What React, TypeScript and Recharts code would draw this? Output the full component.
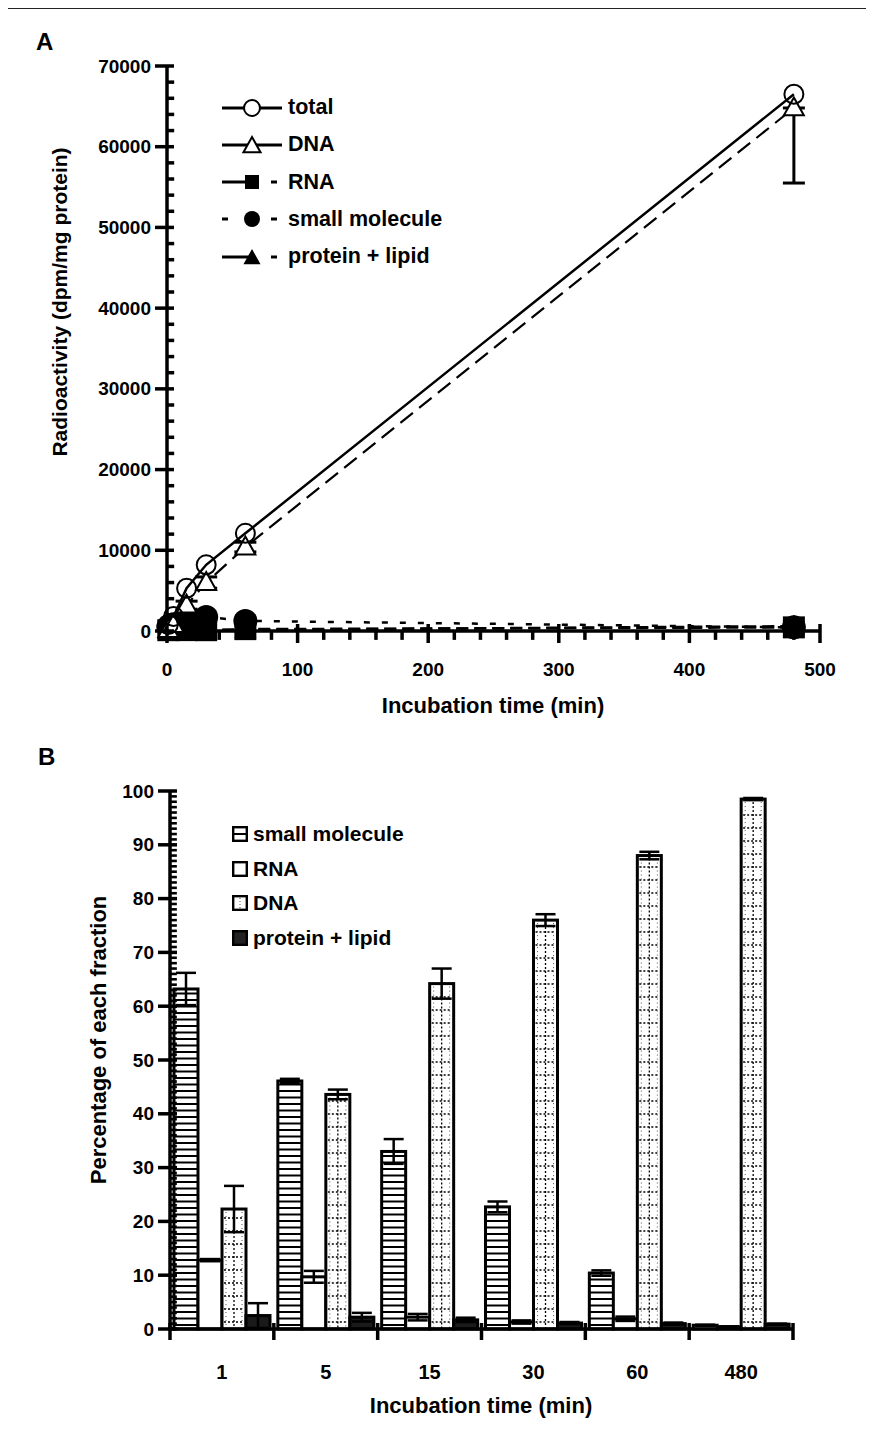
import React from 'react';
import { LineChart, Line, BarChart, Bar, XAxis, YAxis, ErrorBar, ReferenceLine } from 'recharts';

// ---- panel A: radioactivity vs incubation time ----
const times = [1, 5, 15, 30, 60, 480];
const totalCounts = [800, 1800, 5300, 8200, 12100, 66500];
const dnaCounts = [180, 780, 3200, 6000, 10400, 64800];
const dnaCountErr = [[60, 60], [150, 150], [500, 500], [700, 700], [600, 600], [9300, 0]];
const rnaCounts = [100, 175, 110, 100, 230, 450];
const smallCounts = [500, 850, 1650, 1750, 1250, 450];
const proteinCounts = [20, 40, 85, 95, 130, 600];

// ---- panel B: percentage of each fraction ----
const fractionTimes = ['1', '5', '15', '30', '60', '480'];
const smallPct = [63.2, 46.1, 33.0, 22.7, 10.4, 0.7];
const smallPctErr = [3.0, 0.4, 2.3, 1.0, 0.5, 0.1];
const rnaPct = [12.8, 9.7, 2.2, 1.3, 1.9, 0.4];
const rnaPctErr = [0.2, 1.1, 0.6, 0.3, 0.4, 0.1];
const dnaPct = [22.3, 43.6, 64.2, 76.0, 88.0, 98.5];
const dnaPctErr = [4.3, 0.9, 2.8, 1.1, 0.7, 0.2];
const proteinPct = [2.5, 2.2, 1.7, 1.1, 1.0, 0.9];
const proteinPctErr = [2.3, 0.8, 0.4, 0.2, 0.2, 0.1];

// labelled (major) ticks
const countTicks = [0, 10000, 20000, 30000, 40000, 50000, 60000, 70000];
const timeTicks = [0, 100, 200, 300, 400, 500];
const pctTicks = [0, 10, 20, 30, 40, 50, 60, 70, 80, 90, 100];
// unlabelled minor ticks
const countMinor = Array.from({ length: 35 }, (_, i) => i * 2000).filter((v) => v % 10000 !== 0);
const timeMinor = Array.from({ length: 25 }, (_, i) => i * 20).filter((v) => v % 100 !== 0);
const pctMinor = Array.from({ length: 100 }, (_, i) => i).filter((v) => v % 10 !== 0);

const lineData = times.map((t, i) => ({
  time: t,
  total: totalCounts[i],
  dna: dnaCounts[i],
  dnaErr: dnaCountErr[i],
  rna: rnaCounts[i],
  small: smallCounts[i],
  protein: proteinCounts[i],
}));

const barData = fractionTimes.map((t, i) => ({
  time: t,
  small: smallPct[i],
  smallErr: smallPctErr[i],
  rna: rnaPct[i],
  rnaErr: rnaPctErr[i],
  dna: dnaPct[i],
  dnaErr: dnaPctErr[i],
  protein: proteinPct[i],
  proteinErr: proteinPctErr[i],
}));

const FONT = '"Liberation Sans", Arial, Helvetica, sans-serif';
const tickText: React.CSSProperties = { fontFamily: FONT, fontWeight: 700, fontSize: 19, fill: '#000' };
const AX = 3.5;

const B_PLOT_W = 623;
const B_BAND = B_PLOT_W / fractionTimes.length;

function TimeTickA(props: any) {
  const x = Number(props.x);
  const y = Number(props.y);
  return (
    <g>
      <line x1={x} x2={x} y1={y - 7} y2={y + 12} stroke="#000" strokeWidth={3.5} />
      <text x={x} y={y + 38} textAnchor="middle" dominantBaseline="central" style={tickText}>{props.payload.value}</text>
    </g>
  );
}

function MajorYTick(props: any) {
  const x = Number(props.x);
  const y = Number(props.y);
  return (
    <g>
      <line x1={x - 12} x2={x + 7} y1={y} y2={y} stroke="#000" strokeWidth={3.5} />
      <text x={x - 16} y={y} textAnchor="end" dominantBaseline="central" style={tickText}>{props.payload.value}</text>
    </g>
  );
}

function GroupTick(props: any) {
  const x = Number(props.x);
  const y = Number(props.y);
  const right = x + B_BAND / 2;
  const left = x - B_BAND / 2;
  return (
    <g>
      {props.index === 0 && <line x1={left} x2={left} y1={y - 6} y2={y + 11} stroke="#000" strokeWidth={3.5} />}
      <line x1={right} x2={right} y1={y - 6} y2={y + 11} stroke="#000" strokeWidth={3.5} />
      <text x={x} y={y + 43} textAnchor="middle" dominantBaseline="central" style={{ ...tickText, fontSize: 20 }}>
        {props.payload.value}
      </text>
    </g>
  );
}

// markers
const openCircle = (p: any) => (
  <circle key={`oc-${p.index}`} cx={p.cx} cy={p.cy} r={9.5} fill="none" stroke="#000" strokeWidth={2} />
);
const triPath = (cx: number, cy: number, s: number) =>
  `M${cx},${cy - s} L${cx + s * 0.95},${cy + s * 0.7} L${cx - s * 0.95},${cy + s * 0.7} Z`;
const openTriangle = (p: any) => (
  <path key={`ot-${p.index}`} d={triPath(p.cx, p.cy, 10.5)} fill="#fff" stroke="#000" strokeWidth={2} />
);
const filledTriangle = (p: any) => (
  <path key={`ft-${p.index}`} d={triPath(p.cx, p.cy, 11)} fill="#000" stroke="#000" strokeWidth={1} />
);
const filledSquare = (p: any) => (
  <rect key={`fs-${p.index}`} x={p.cx - 11} y={p.cy - 11} width={22} height={22} fill="#000" />
);
const filledCircle = (p: any) => (
  <circle key={`fc-${p.index}`} cx={p.cx} cy={p.cy} r={12} fill="#000" />
);

// bar shapes
function StripedBar(props: any) {
  const { x, y, width, height } = props;
  const lines = [];
  for (let yy = y + height - 4; yy > y + 2; yy -= 6.5) {
    lines.push(<line key={yy} x1={x} x2={x + width} y1={yy} y2={yy} stroke="#000" strokeWidth={2} />);
  }
  return (
    <g>
      <rect x={x} y={y} width={width} height={height} fill="#fff" />
      {lines}
      <rect x={x} y={y} width={width} height={height} fill="none" stroke="#000" strokeWidth={3} />
    </g>
  );
}

function DottedBar(props: any) {
  const { x, y, width, height } = props;
  const lines = [];
  for (let yy = y + height - 7; yy > y + 3; yy -= 13) {
    lines.push(
      <line key={yy} x1={x + 2} x2={x + width - 2} y1={yy} y2={yy} stroke="#000" strokeWidth={1.3} strokeDasharray="2 2" />,
    );
  }
  return (
    <g>
      <rect x={x} y={y} width={width} height={height} fill="#fff" />
      {lines}
      <line x1={x + width / 2} x2={x + width / 2} y1={y + 3} y2={y + height} stroke="#000" strokeWidth={1.3} strokeDasharray="2 2" />
      <line x1={x + 4} x2={x + 4} y1={y + 3} y2={y + height} stroke="#555" strokeWidth={1} strokeDasharray="1 3" />
      <line x1={x + width - 4} x2={x + width - 4} y1={y + 3} y2={y + height} stroke="#555" strokeWidth={1} strokeDasharray="1 3" />
      <rect x={x} y={y} width={width} height={height} fill="none" stroke="#000" strokeWidth={3} />
    </g>
  );
}

function PlainBar(props: any) {
  const { x, y, width, height } = props;
  return <rect x={x} y={y} width={width} height={Math.max(height, 0.5)} fill="#fff" stroke="#000" strokeWidth={3} />;
}

function DarkBar(props: any) {
  const { x, y, width, height } = props;
  return <rect x={x} y={y} width={width} height={Math.max(height, 0.5)} fill="#1a1a1a" stroke="#000" strokeWidth={3} />;
}

// legend glyphs
function LineGlyph({ lead, tail, marker }: { lead: string; tail: string; marker: string }) {
  const cx = 30;
  const cy = 12;
  let m: React.ReactNode = null;
  if (marker === 'oc') m = <circle cx={cx} cy={cy} r={8} fill="#fff" stroke="#000" strokeWidth={2} />;
  if (marker === 'ot') m = <path d={triPath(cx, cy + 1, 9)} fill="#fff" stroke="#000" strokeWidth={2} />;
  if (marker === 'fs') m = <rect x={cx - 7} y={cy - 7} width={14} height={14} fill="#000" />;
  if (marker === 'fc') m = <circle cx={cx} cy={cy} r={8} fill="#000" />;
  if (marker === 'ft') m = <path d={triPath(cx, cy + 1, 9)} fill="#000" />;
  return (
    <svg width={62} height={24} style={{ display: 'block' }}>
      {lead === 'solid' ? (
        <line x1={0} x2={cx} y1={cy} y2={cy} stroke="#000" strokeWidth={3} />
      ) : (
        <line x1={0} x2={6} y1={cy} y2={cy} stroke="#000" strokeWidth={3} />
      )}
      {tail === 'solid' ? (
        <line x1={cx} x2={60} y1={cy} y2={cy} stroke="#000" strokeWidth={3} />
      ) : (
        <line x1={49} x2={55} y1={cy} y2={cy} stroke="#000" strokeWidth={3} />
      )}
      {m}
    </svg>
  );
}

const legendA = [
  { label: 'total', lead: 'solid', tail: 'solid', marker: 'oc' },
  { label: 'DNA', lead: 'solid', tail: 'solid', marker: 'ot' },
  { label: 'RNA', lead: 'solid', tail: 'dash', marker: 'fs' },
  { label: 'small molecule', lead: 'dash', tail: 'dash', marker: 'fc' },
  { label: 'protein + lipid', lead: 'solid', tail: 'dash', marker: 'ft' },
];

const legendB = [
  { label: 'small molecule', kind: 'stripe' },
  { label: 'RNA', kind: 'plain' },
  { label: 'DNA', kind: 'dot' },
  { label: 'protein + lipid', kind: 'dark' },
];

function BoxGlyph({ kind }: { kind: string }) {
  return (
    <svg width={16} height={16} style={{ display: 'block' }}>
      <rect x={1.2} y={1.2} width={13.6} height={13.6} fill={kind === 'dark' ? '#222' : '#fff'} stroke="#000" strokeWidth={2.4} />
      {kind === 'stripe' && <line x1={1} x2={15} y1={8} y2={8} stroke="#000" strokeWidth={2} />}
      {kind === 'dot' && <line x1={8} x2={8} y1={3} y2={14} stroke="#555" strokeWidth={1} strokeDasharray="1 2" />}
    </svg>
  );
}

const labelStyle: React.CSSProperties = {
  position: 'absolute',
  fontFamily: FONT,
  fontWeight: 700,
  fontSize: 21,
  color: '#000',
  whiteSpace: 'nowrap',
};

export default function App() {
  return (
    <div style={{ position: 'relative', width: 858, height: 1436, background: '#fff' }}>
      {/* outer frame */}
      <div style={{ position: 'absolute', left: -1, top: 0, width: 858, height: 1440, borderTop: '1.5px solid #222', borderLeft: '1.5px solid #555', borderRight: '1.5px solid #555' }} />

      <div style={{ ...labelStyle, fontSize: 24, left: 28, top: 20 }}>A</div>
      <div style={{ ...labelStyle, fontSize: 24, left: 30, top: 735 }}>B</div>

      {/* Panel A */}
      <div style={{ position: 'absolute', left: 0, top: 0 }}>
        <LineChart width={858} height={730} data={lineData} margin={{ top: 58, right: 46, bottom: 47, left: 69 }}>
          <XAxis dataKey="time" type="number" domain={[0, 500]} ticks={timeTicks} interval={0}
            tick={TimeTickA} tickLine={false} tickSize={0} tickMargin={0} height={60}
            axisLine={{ stroke: '#000', strokeWidth: AX }} />
          <XAxis xAxisId="top" orientation="top" type="number" domain={[0, 500]} tick={false} tickLine={false} height={0}
            axisLine={{ stroke: '#000', strokeWidth: AX }} />
          <YAxis type="number" domain={[0, 70000]} ticks={countTicks} interval={0}
            tick={MajorYTick} tickLine={false} tickSize={0} tickMargin={0} width={90}
            axisLine={{ stroke: '#000', strokeWidth: AX }} />
          <YAxis yAxisId="right" orientation="right" type="number" domain={[0, 70000]} tick={false} tickLine={false} width={0}
            axisLine={{ stroke: '#000', strokeWidth: AX }} />
          {/* unlabelled minor ticks */}
          {countMinor.map((v) => (
            <ReferenceLine key={`cy${v}`} segment={[{ x: 0, y: v }, { x: 5.5, y: v }]} ifOverflow="visible" stroke="#000" strokeWidth={3.5} />
          ))}
          {timeMinor.map((v) => (
            <ReferenceLine key={`tx${v}`} segment={[{ x: v, y: 0 }, { x: v, y: -1100 }]} ifOverflow="visible" stroke="#000" strokeWidth={3.5} />
          ))}
          <Line dataKey="small" stroke="#000" strokeWidth={2.5} strokeDasharray="6 12" dot={filledCircle} activeDot={false} isAnimationActive={false} />
          <Line dataKey="rna" stroke="#000" strokeWidth={2.5} strokeDasharray="12 6" dot={filledSquare} activeDot={false} isAnimationActive={false} />
          <Line dataKey="protein" stroke="#000" strokeWidth={2.5} strokeDasharray="12 6" dot={filledTriangle} activeDot={false} isAnimationActive={false} />
          <Line dataKey="dna" stroke="#000" strokeWidth={2.2} strokeDasharray="16 8" dot={openTriangle} activeDot={false} isAnimationActive={false}>
            <ErrorBar dataKey="dnaErr" width={11} strokeWidth={3} stroke="#000" direction="y" />
          </Line>
          <Line dataKey="total" stroke="#000" strokeWidth={2.5} dot={openCircle} activeDot={false} isAnimationActive={false} />
        </LineChart>
      </div>

      {legendA.map((e, i) => (
        <div key={e.label} style={{ position: 'absolute', left: 214, top: 87 + i * 37.3, display: 'flex', alignItems: 'center' }}>
          <LineGlyph lead={e.lead} tail={e.tail} marker={e.marker} />
          <span style={{ fontFamily: FONT, fontWeight: 700, fontSize: 21.5, marginLeft: 4 }}>{e.label}</span>
        </div>
      ))}

      <div style={{ ...labelStyle, fontSize: 22, left: 493 - 8, top: 706 - 8, transform: 'translate(-50%, -50%)' }}>Incubation time (min)</div>
      <div style={{ ...labelStyle, left: 60 - 8, top: 302 - 8, transform: 'translate(-50%, -50%) rotate(-90deg)' }}>
        Radioactivity (dpm/mg protein)
      </div>

      {/* Panel B */}
      <div style={{ position: 'absolute', left: 0, top: 732 }}>
        <BarChart width={858} height={700} data={barData} margin={{ top: 51, right: 73, bottom: 51, left: 72 }}
          barCategoryGap={4} barGap={0}>
          <XAxis dataKey="time" tick={GroupTick} tickLine={false} tickSize={0} tickMargin={0} interval={0} height={60}
            axisLine={{ stroke: '#000', strokeWidth: AX }} />
          <XAxis xAxisId="top" orientation="top" dataKey="time" tick={false} tickLine={false} height={0}
            axisLine={{ stroke: '#000', strokeWidth: AX }} />
          <XAxis xAxisId="num" type="number" domain={[0, 6]} hide />
          <YAxis type="number" domain={[0, 100]} ticks={pctTicks} interval={0}
            tick={MajorYTick} tickLine={false} tickSize={0} tickMargin={0} width={90}
            axisLine={{ stroke: '#000', strokeWidth: AX }} />
          <YAxis yAxisId="right" orientation="right" type="number" domain={[0, 100]} tick={false} tickLine={false} width={0}
            axisLine={{ stroke: '#000', strokeWidth: AX }} />
          {pctMinor.map((v) => (
            <ReferenceLine key={`py${v}`} xAxisId="num" segment={[{ x: 0, y: v }, { x: 0.055, y: v }]} ifOverflow="visible" stroke="#000" strokeWidth={2.6} />
          ))}
          <Bar dataKey="small" shape={StripedBar} isAnimationActive={false}>
            <ErrorBar dataKey="smallErr" width={10} strokeWidth={2.5} stroke="#000" direction="y" />
          </Bar>
          <Bar dataKey="rna" shape={PlainBar} isAnimationActive={false}>
            <ErrorBar dataKey="rnaErr" width={10} strokeWidth={2.5} stroke="#000" direction="y" />
          </Bar>
          <Bar dataKey="dna" shape={DottedBar} isAnimationActive={false}>
            <ErrorBar dataKey="dnaErr" width={10} strokeWidth={2.5} stroke="#000" direction="y" />
          </Bar>
          <Bar dataKey="protein" shape={DarkBar} isAnimationActive={false}>
            <ErrorBar dataKey="proteinErr" width={10} strokeWidth={2.5} stroke="#000" direction="y" />
          </Bar>
        </BarChart>
      </div>

      {legendB.map((e, i) => (
        <div key={e.label} style={{ position: 'absolute', left: 224, top: 814 + i * 34.5, display: 'flex', alignItems: 'center' }}>
          <BoxGlyph kind={e.kind} />
          <span style={{ fontFamily: FONT, fontWeight: 700, fontSize: 21, marginLeft: 5 }}>{e.label}</span>
        </div>
      ))}

      <div style={{ ...labelStyle, fontSize: 22, left: 481 - 8, top: 1406 - 8, transform: 'translate(-50%, -50%)' }}>Incubation time (min)</div>
      <div style={{ ...labelStyle, fontSize: 22, left: 99 - 8, top: 1040 - 8, transform: 'translate(-50%, -50%) rotate(-90deg)' }}>
        Percentage of each fraction
      </div>
    </div>
  );
}
